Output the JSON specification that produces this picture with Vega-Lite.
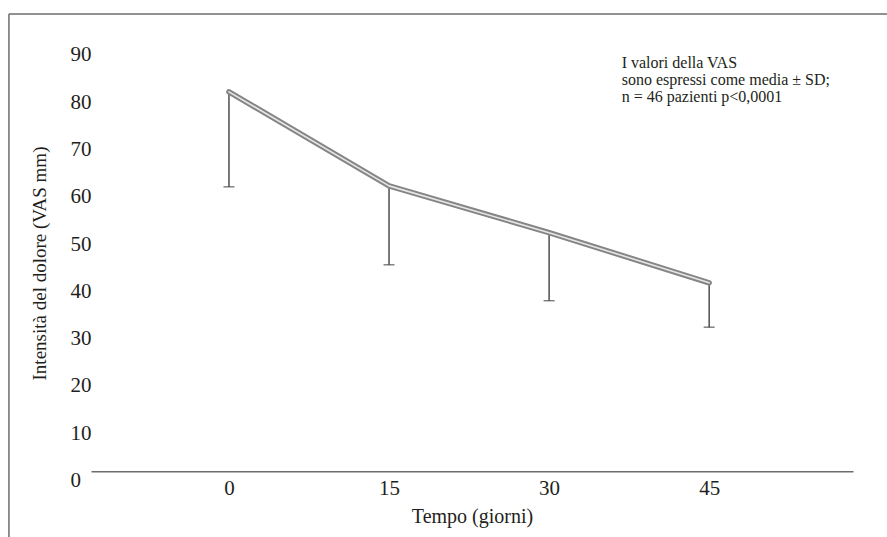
{
  "$schema": "https://vega.github.io/schema/vega-lite/v6.json",
  "autosize": {"type": "none"},
  "width": 762,
  "height": 463,
  "padding": {"left": 91, "top": 20, "right": 34, "bottom": 54},
  "background": "#ffffff",
  "config": {
    "view": {"stroke": null},
    "font": "Liberation Serif",
    "axis": {"labelFont": "Liberation Serif", "titleFont": "Liberation Serif", "labelColor": "#231f20", "titleColor": "#231f20", "titleFontWeight": "normal", "grid": false}
  },
  "data": {
    "values": [
      {"giorno": 0, "media": 82.2, "inferiore": 62.1},
      {"giorno": 15, "media": 62.3, "inferiore": 45.6},
      {"giorno": 30, "media": 52.4, "inferiore": 38.0},
      {"giorno": 45, "media": 41.8, "inferiore": 32.4}
    ]
  },
  "layer": [
    {
      "mark": {"type": "rule", "color": "#333333", "strokeWidth": 1.3},
      "encoding": {
        "x": {"field": "giorno", "type": "quantitative", "scale": {"domain": [-12.93, 58.48], "nice": false, "zero": false},
          "axis": {"values": [0, 15, 30, 45], "offset": -11.7, "ticks": false, "tickSize": 0, "labelPadding": 6, "labelFontSize": 21, "domainColor": "#6d6d6d", "domainWidth": 1.5, "title": "Tempo (giorni)", "titleFontSize": 20, "titlePadding": 8}},
        "y": {"field": "media", "type": "quantitative", "scale": {"domain": [-0.57, 97.4], "nice": false, "zero": false},
          "axis": {"values": [0, 10, 20, 30, 40, 50, 60, 70, 80, 90], "domain": false, "ticks": false, "tickSize": 0, "labelAlign": "left", "labelPadding": 21, "labelFontSize": 21, "title": "Intensità del dolore (VAS mm)", "titleFontSize": 19, "titleX": -42, "titleY": 243}},
        "y2": {"field": "inferiore"}
      }
    },
    {
      "mark": {"type": "tick", "orient": "horizontal", "color": "#333333", "size": 11, "thickness": 1.3},
      "encoding": {
        "x": {"field": "giorno", "type": "quantitative"},
        "y": {"field": "inferiore", "type": "quantitative"}
      }
    },
    {
      "mark": {"type": "line", "color": "#858585", "strokeWidth": 5.5, "strokeCap": "round", "strokeJoin": "round"},
      "encoding": {
        "x": {"field": "giorno", "type": "quantitative"},
        "y": {"field": "media", "type": "quantitative"}
      }
    },
    {
      "mark": {"type": "line", "color": "#e6e6e6", "strokeWidth": 1.6, "strokeCap": "round", "strokeJoin": "round"},
      "encoding": {
        "x": {"field": "giorno", "type": "quantitative"},
        "y": {"field": "media", "type": "quantitative"}
      }
    },
    {
      "data": {"values": [{"x": 36.8, "y": 90.0, "nota": ["I valori della VAS", "sono espressi come media ± SD;", "n = 46 pazienti p<0,0001"]}]},
      "mark": {"type": "text", "align": "left", "baseline": "top", "fontSize": 16, "lineHeight": 17, "color": "#231f20", "font": "Liberation Serif"},
      "encoding": {
        "x": {"field": "x", "type": "quantitative"},
        "y": {"field": "y", "type": "quantitative"},
        "text": {"field": "nota"}
      }
    },
    {
      "data": {"values": [{"x1": -20.62, "x2": 61.67, "y1": 98.69, "y2": 98.69}, {"x1": -20.62, "x2": -20.62, "y1": 98.69, "y2": -12.5}]},
      "mark": {"type": "rule", "color": "#6d6d6d", "strokeWidth": 1.5},
      "encoding": {
        "x": {"field": "x1", "type": "quantitative"},
        "x2": {"field": "x2"},
        "y": {"field": "y1", "type": "quantitative"},
        "y2": {"field": "y2"}
      }
    }
  ]
}
